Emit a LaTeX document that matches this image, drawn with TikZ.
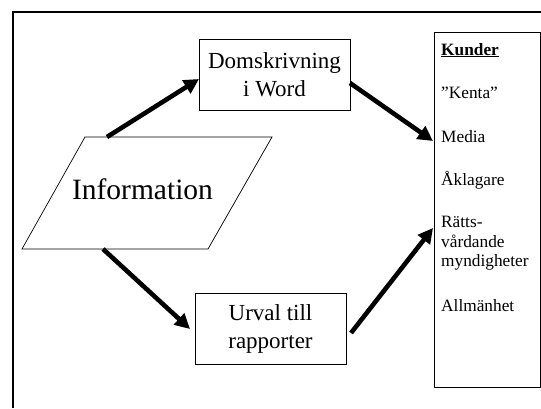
\documentclass[tikz,border=0pt]{standalone}
\usepackage{fontspec}
\setmainfont{Liberation Serif}
\usetikzlibrary{arrows.meta}
\begin{document}
\begin{tikzpicture}[x=1pt,y=-1pt,
  box/.style={draw, line width=0.8pt, minimum width=151pt, minimum height=71pt, inner sep=0pt, align=center, font=\fontsize{23}{28}\selectfont},
  flow/.style={line width=4.6pt, -{Triangle[length=15pt,width=15pt]}},
  item/.style={anchor=base west, inner sep=0pt, font=\fontsize{17.3}{20}\selectfont}]
\useasboundingbox (0,0) rectangle (541,408);
% outer frame
\draw[line width=2pt] (12.7,408) -- (12.7,11.7) -- (541,11.7);
% parallelogram
\coordinate (pbl) at (22,249);
\coordinate (pbr) at (208,249);
\coordinate (ptr) at (272,137);
\coordinate (ptl) at (85,137);
\draw[line width=0.7pt] (pbl) -- (pbr) -- (ptr) -- (ptl) -- cycle;
\node[anchor=base, inner sep=0pt, font=\fontsize{29.5}{34}\selectfont] (info) at (142.5,199) {Information};
% boxes
\node[box] (dom) at (274.5,74.5) {Domskrivning\\i Word};
\node[box] (urv) at (270.5,328.5) {Urval till\\rapporter};
\node[draw, line width=0.8pt, minimum width=106pt, minimum height=355pt, inner sep=0pt] (kund) at (487,209.5) {};
% customer list
\node[item] (k0) at (441,55) {\textbf{\underline{Kunder}}};
\node[item] (k1) at (441,98.5) {”Kenta”};
\node[item] (k2) at (441,142) {Media};
\node[item] (k3) at (441,185.5) {Åklagare};
\node[item] (k4a) at (441,227) {Rätts-};
\node[item] (k4b) at (441,247) {vårdande};
\node[item] (k4c) at (441,266.5) {myndigheter};
\node[item] (k5) at (441,311) {Allmänhet};
% connector ends
\coordinate (a1s) at (107,137);
\coordinate (a1e) at (199,79);
\coordinate (a2s) at (350,83);
\coordinate (a2e) at (433,141);
\coordinate (a3s) at (103,249);
\coordinate (a3e) at (190,329);
\coordinate (a4s) at (351,333);
\coordinate (a4e) at (433,228);
\draw[flow] (a1s) -- (a1e);
\draw[flow] (a2s) -- (a2e);
\draw[flow] (a3s) -- (a3e);
\draw[flow] (a4s) -- (a4e);
\end{tikzpicture}
\end{document}
